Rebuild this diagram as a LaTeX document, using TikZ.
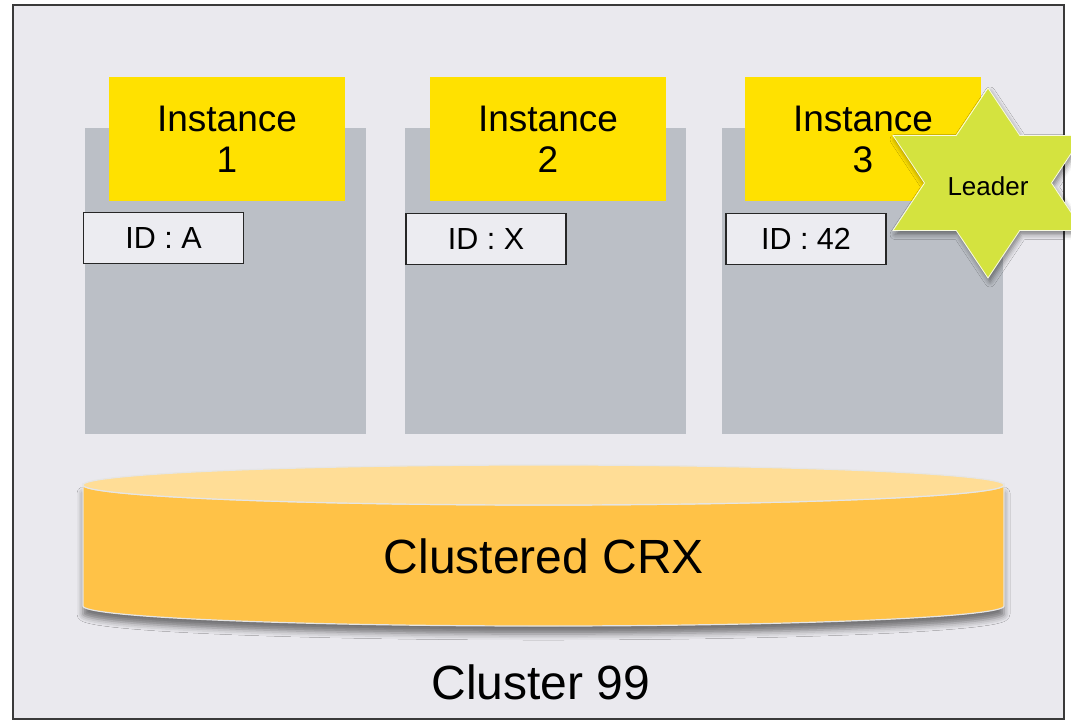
\documentclass[tikz,border=0pt]{standalone}
\usepackage{fontspec}
\setmainfont{Liberation Sans}
\usetikzlibrary{shadows.blur}
\definecolor{framefill}{HTML}{EAE9EE}
\definecolor{frameline}{HTML}{3A3A3A}
\definecolor{panelgray}{HTML}{BBBFC6}
\definecolor{instyellow}{HTML}{FFE100}
\definecolor{idfill}{HTML}{ECECF1}
\definecolor{cylbody}{HTML}{FFC247}
\definecolor{cyltop}{HTML}{FFDD96}
\definecolor{starfill}{HTML}{D4E33F}
\tikzset{
  panel/.style={fill=panelgray, draw=none, minimum width=281pt, minimum height=306pt, inner sep=0pt},
  instbox/.style={fill=instyellow, draw=none, minimum width=236pt, minimum height=124pt, inner sep=0pt, align=center, font=\fontsize{37}{41}\selectfont},
  idbox/.style={fill=idfill, draw=black!85, line width=1.8pt, minimum width=160pt, minimum height=51pt, inner sep=0pt, font=\fontsize{30.5}{32}\selectfont},
}
\begin{document}
\begin{tikzpicture}[x={(1pt,0pt)}, y={(0pt,-1pt)}]
\useasboundingbox (0,0) rectangle (1071,721);
\clip (0,0) rectangle (1071,721);
% outer frame
\node[draw=frameline, line width=1.8pt, fill=framefill, minimum width=1051pt, minimum height=714pt, inner sep=0pt] (frame) at (538.5,362) {};
% panels
\node[panel] (p1) at (225.5,281) {};
\node[panel] (p2) at (545.5,281) {};
\node[panel] (p3) at (862.5,281) {};
% instance boxes
\node[instbox] (i1) at (227,139) {Instance\\1};
\node[instbox] (i2) at (548,139) {Instance\\2};
\node[instbox] (i3) at (863,139) {Instance\\3};
% id boxes
\node[idbox] (id1) at (163.5,238) {ID : A};
\node[idbox] (id2) at (486,239) {ID : X};
\node[idbox] (id3) at (806,239) {ID : 42};
% leader star
\path[fill=starfill, draw=white!85!starfill, line width=0.8pt,
      blur shadow={shadow xshift=2pt, shadow yshift=-4pt, shadow blur radius=5pt, shadow opacity=45}]
  (988,88) -- (1019.75,135.5) -- (1083,135.5) -- (1051.5,183) -- (1083,230.5)
  -- (1019.75,230.5) -- (988,278) -- (956.25,230.5) -- (893,230.5) -- (924.5,183)
  -- (893,135.5) -- (956.25,135.5) -- cycle;
\node[font=\fontsize{26}{28}\selectfont] (leader) at (988,186) {Leader};
% cylinder
\path[fill=cylbody, draw=white!90!black, line width=1.2pt,
      blur shadow={shadow xshift=0pt, shadow yshift=-8pt, shadow blur radius=6pt, shadow opacity=50}]
  (83,485) -- (83,606) arc[start angle=180, end angle=0, x radius=460.5, y radius=20]
  -- (1004,485) arc[start angle=0, end angle=180, x radius=460.5, y radius=20] -- cycle;
\path[fill=cyltop, draw=white!90!black, line width=1.2pt] (543.5,485) ellipse[x radius=460.5, y radius=20];
\node[font=\fontsize{48}{50}\selectfont] (crx) at (544,556) {Clustered CRX};
% cluster label
\node[font=\fontsize{48}{50}\selectfont] (cluster) at (541,682) {Cluster 99};
\end{tikzpicture}
\end{document}
